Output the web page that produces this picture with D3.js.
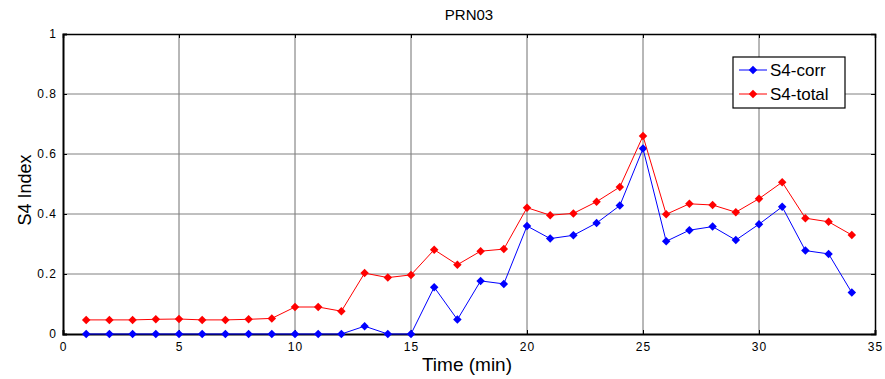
<!DOCTYPE html>
<html>
<head>
<meta charset="utf-8">
<script src="https://cdn.jsdelivr.net/npm/d3@7"></script>
<style>
  body { margin: 0; background: #fff; }
  svg { font-family: "Liberation Sans", Arial, sans-serif; }
</style>
</head>
<body>
<svg id="chart" width="885" height="379"></svg>
<script>
'use strict';

// Data (time in minutes, S4 index)
const minutes = d3.range(1, 35);
const s4Corr = [
  0, 0, 0, 0, 0, 0, 0, 0, 0, 0,
  0, 0, 0.026, 0, 0, 0.156, 0.048, 0.177, 0.167, 0.36,
  0.318, 0.329, 0.37, 0.428, 0.618, 0.309, 0.346, 0.358, 0.313, 0.366,
  0.424, 0.278, 0.267, 0.138
];
const s4Total = [
  0.047, 0.047, 0.047, 0.049, 0.05, 0.047, 0.047, 0.049, 0.052, 0.09,
  0.09, 0.076, 0.203, 0.188, 0.197, 0.281, 0.231, 0.276, 0.283, 0.421,
  0.396, 0.402, 0.441, 0.49, 0.66, 0.399, 0.434, 0.43, 0.406, 0.451,
  0.506, 0.386, 0.374, 0.33
];
const xTicks = [0, 5, 10, 15, 20, 25, 30, 35];
const yTicks = [0, 0.2, 0.4, 0.6, 0.8, 1];

const series = [
  { name: 'S4-corr',  color: '#0000ff', values: s4Corr },
  { name: 'S4-total', color: '#ff0000', values: s4Total },
];

const margin = { top: 34, right: 10, bottom: 45, left: 63 };
const svg = d3.select('#chart');
const W = +svg.attr('width'), H = +svg.attr('height');
const w = W - margin.left - margin.right;
const h = H - margin.top - margin.bottom;

const x = d3.scaleLinear().domain([0, 35]).range([0, w]);
const y = d3.scaleLinear().domain([0, 1]).range([h, 0]);

const g = svg.append('g').attr('transform', `translate(${margin.left},${margin.top})`);

// Grid
g.append('g').selectAll('line').data(xTicks.slice(1, -1)).join('line')
  .attr('x1', d => x(d)).attr('x2', d => x(d))
  .attr('y1', 0).attr('y2', h)
  .attr('stroke', '#707070').attr('stroke-width', 1);
g.append('g').selectAll('line').data(yTicks.slice(1, -1)).join('line')
  .attr('x1', 0).attr('x2', w)
  .attr('y1', d => y(d)).attr('y2', d => y(d))
  .attr('stroke', '#808080').attr('stroke-width', 1);

// Axes (MATLAB-like inner ticks)
const fmt = d => d3.format('')(d);
g.append('g').attr('transform', `translate(0,${h})`)
  .call(d3.axisBottom(x).tickValues(xTicks).tickSize(-4).tickPadding(8).tickFormat(fmt))
  .call(a => a.select('.domain').attr('stroke-width', 2));
g.append('g')
  .call(d3.axisLeft(y).tickValues(yTicks).tickSize(-4).tickPadding(6).tickFormat(fmt))
  .call(a => a.select('.domain').attr('stroke-width', 2));
g.append('g')
  .call(d3.axisTop(x).tickValues(xTicks).tickSize(-4).tickFormat(''))
  .call(a => a.select('.domain').attr('stroke-width', 1.5));
g.append('g').attr('transform', `translate(${w},0)`)
  .call(d3.axisRight(y).tickValues(yTicks).tickSize(-4).tickFormat(''))
  .call(a => a.select('.domain').attr('stroke-width', 1.5));
g.selectAll('.tick text').attr('font-size', 12).attr('fill', '#000')
  .attr('font-family', '"Liberation Sans", Arial, sans-serif').style('letter-spacing', '1px');

// Lines and diamond markers (square turned 45 degrees)
const line = d3.line().x((d, i) => x(minutes[i])).y(d => y(d));
const diamond = d3.symbol().type(d3.symbolSquare).size(36);

for (const s of series) {
  g.append('path').datum(s.values)
    .attr('d', line).attr('fill', 'none')
    .attr('stroke', s.color).attr('stroke-width', 1);
  g.append('g').selectAll('path').data(s.values).join('path')
    .attr('d', diamond)
    .attr('transform', (d, i) => `translate(${x(minutes[i])},${y(d)}) rotate(45)`)
    .attr('fill', s.color);
}

// Title and labels
svg.append('text').attr('x', margin.left + w / 2).attr('y', 20)
  .attr('text-anchor', 'middle').attr('font-size', 15).text('PRN03');
svg.append('text').attr('x', 467).attr('y', 371)
  .attr('text-anchor', 'middle').attr('font-size', 19).text('Time (min)');
svg.append('text')
  .attr('transform', `translate(31,${margin.top + 156}) rotate(-90)`)
  .attr('text-anchor', 'middle').attr('font-size', 18).text('S4 Index');

// Legend
const legend = svg.append('g').attr('transform', 'translate(733,57)');
legend.append('rect').attr('width', 112).attr('height', 51)
  .attr('fill', '#fff').attr('stroke', '#000').attr('stroke-width', 1.2);
series.forEach((s, i) => {
  const ly = 13 + i * 24;
  const row = legend.append('g').attr('transform', `translate(0,${ly})`);
  row.append('line').attr('x1', 6).attr('x2', 34).attr('stroke', s.color).attr('stroke-width', 1);
  row.append('path').attr('d', diamond).attr('transform', 'translate(20,0) rotate(45)').attr('fill', s.color);
  row.append('text').attr('x', 37).attr('y', 6).attr('font-size', 17).text(s.name);
});
</script>
</body>
</html>
